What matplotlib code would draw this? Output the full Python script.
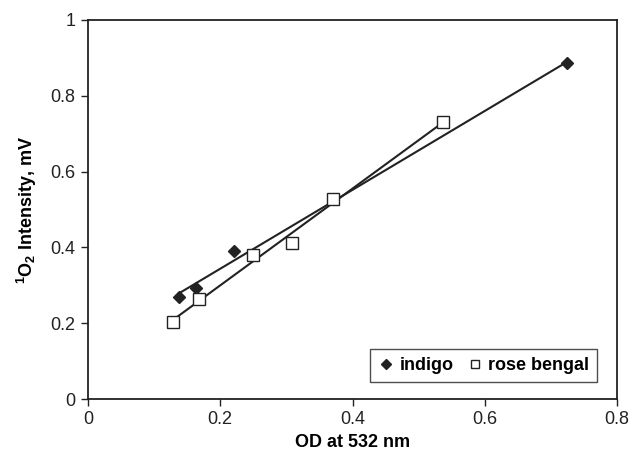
import matplotlib
matplotlib.use("Agg")
import matplotlib.pyplot as plt
import numpy as np

plt.rcParams['font.family'] = ['Liberation Sans', 'DejaVu Sans']
plt.rcParams['mathtext.fontset'] = 'custom'
plt.rcParams['mathtext.rm'] = 'Liberation Sans:bold'
plt.rcParams['mathtext.bf'] = 'Liberation Sans:bold'
plt.rcParams['mathtext.it'] = 'Liberation Sans:bold'

indigo_x = [0.137, 0.163, 0.221, 0.724]
indigo_y = [0.268, 0.294, 0.390, 0.886]
rose_x = [0.128, 0.168, 0.249, 0.308, 0.371, 0.5375]
rose_y = [0.202, 0.263, 0.380, 0.412, 0.529, 0.730]

xticks = [0, 0.2, 0.4, 0.6, 0.8]
yticks = [0, 0.2, 0.4, 0.6, 0.8, 1]
xticklabels = ['0', '0.2', '0.4', '0.6', '0.8']
yticklabels = ['0', '0.2', '0.4', '0.6', '0.8', '1']

ink = '#222222'

fig = plt.figure(figsize=(6.32, 4.58), dpi=100)
ax = fig.add_axes([88/632, 1-399/458, (617-88)/632, (399-20)/458])

for xs, ys in [(indigo_x, indigo_y), (rose_x, rose_y)]:
    xs_a = np.array(xs); ys_a = np.array(ys)
    m, b = np.polyfit(xs_a, ys_a, 1)
    xl = np.array([xs_a.min(), xs_a.max()])
    ax.plot(xl, m*xl + b, color=ink, lw=1.5, zorder=2)

ax.plot(indigo_x, indigo_y, linestyle='none', marker='D', markersize=6,
        color=ink, label='indigo', zorder=3)
ax.plot(rose_x, rose_y, linestyle='none', marker='s', markersize=8,
        markerfacecolor='white', markeredgecolor=ink, markeredgewidth=1.0,
        label='rose bengal', zorder=3)

ax.set_xlim(0, 0.8)
ax.set_ylim(0, 1)
ax.set_xticks(xticks)
ax.set_yticks(yticks)
ax.set_xticklabels(xticklabels)
ax.set_yticklabels(yticklabels)
ax.tick_params(direction='out', length=5, width=1, labelsize=13, colors=ink, pad=4)
for s in ax.spines.values():
    s.set_linewidth(1.3)
    s.set_color(ink)

ax.set_xlabel('OD at 532 nm', fontsize=13, fontweight='bold', labelpad=4)
ax.set_ylabel(r'$^{1}$O$_{2}$ Intensity, mV', fontsize=13, fontweight='bold', labelpad=8)

leg = ax.legend(loc='lower right', bbox_to_anchor=(0.963, 0.045), ncol=2, frameon=True,
                fancybox=False, edgecolor=ink, handlelength=0.9, handletextpad=0.3,
                columnspacing=0.7, borderpad=0.45, borderaxespad=0,
                prop={'weight': 'bold', 'size': 13})
leg.get_frame().set_linewidth(1.0)
for h in leg.legend_handles:
    h.set_markersize(5.5)

fig.savefig('out.png', dpi=100)
